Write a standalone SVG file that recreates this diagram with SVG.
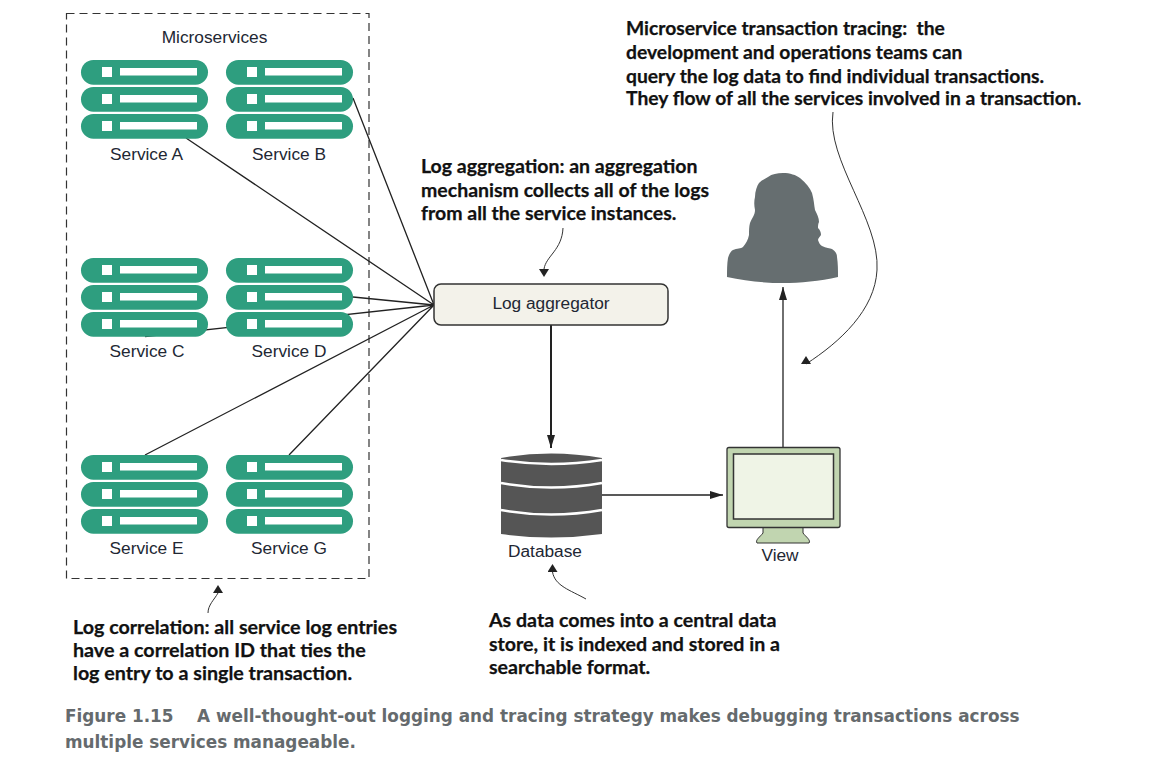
<svg xmlns="http://www.w3.org/2000/svg" xmlns:xlink="http://www.w3.org/1999/xlink" width="1149" height="757" viewBox="0 0 1149 757">
<style>
.lbl{font-family:"Liberation Sans",Arial,sans-serif;font-size:17.3px;fill:#222733}
.note{font-family:Lato,"Open Sans",sans-serif;font-size:19.5px;font-weight:700;fill:#111;stroke:#111;stroke-width:.25}
.cap{font-family:"DejaVu Sans",Verdana,sans-serif;font-size:16.85px;font-weight:700;fill:#656a6d}
.ln{fill:none;stroke:#222;stroke-width:1.3}
.cv{fill:none;stroke:#333;stroke-width:1}
</style>
<defs>
<marker id="a" viewBox="0 0 13 8" refX="13" refY="4" markerWidth="13" markerHeight="8" markerUnits="userSpaceOnUse" orient="auto"><path d="M0 0L13 4L0 8z" fill="#222"/></marker>
<marker id="up" viewBox="0 0 10 8" refX="5" refY="8" markerWidth="10" markerHeight="8" markerUnits="userSpaceOnUse" orient="0"><path d="M5 0L10 8H0z" fill="#222"/></marker>
<marker id="dn" viewBox="0 0 10 8" refX="5" refY="0" markerWidth="10" markerHeight="8" markerUnits="userSpaceOnUse" orient="0"><path d="M5 8L10 0H0z" fill="#222"/></marker>
<g id="srv"><rect x="0" y="0" width="127" height="24.700" rx="12.350" fill="#2e9e7f"/><rect x="21" y="7" width="10" height="10" fill="#fff"/><rect x="39" y="8" width="77" height="7.500" fill="#fff"/></g>
<g id="stack"><use xlink:href="#srv"/><use xlink:href="#srv" y="27"/><use xlink:href="#srv" y="54"/></g>
</defs>
<rect width="1149" height="757" fill="#fff"/>
<g id="microservices"><rect x="66.500" y="13.500" width="302.500" height="565" fill="none" stroke="#333" stroke-width="1.2" stroke-dasharray="8 5"/><text class="lbl" x="214.500" y="43" text-anchor="middle">Microservices</text></g>
<g id="connectors">
<path class="ln" d="M186 138L434 305M353 98L434 305M353 297L434 305M145 336.500L434 305M145 455L434 305M289 455L434 305"/>
<path d="M551 325V448" fill="none" stroke="#222" stroke-width="2" marker-end="url(#a)"/>
<path class="ln" d="M602 495H723" marker-end="url(#a)"/>
<path class="ln" d="M783 447V287" marker-end="url(#a)"/>
<path class="cv" d="M563 228C562 250 546 256 544 269" marker-end="url(#dn)"/>
<path class="cv" d="M586 599C570 590 555 586 552.500 572" marker-end="url(#up)"/>
<path class="cv" d="M208 613C208 605 214 600 218 593" marker-end="url(#up)"/>
<path class="cv" d="M833 112C826 160 880 220 877 270C875 310 840 342 806 364" marker-end="url(#up)"/>
</g>
<g id="service-a"><use xlink:href="#stack" x="81" y="60"/><text class="lbl" x="146.500" y="160" text-anchor="middle">Service A</text></g>
<g id="service-b"><use xlink:href="#stack" x="226" y="60"/><text class="lbl" x="289" y="160" text-anchor="middle">Service B</text></g>
<g id="service-c"><use xlink:href="#stack" x="81" y="258"/><text class="lbl" x="147" y="357" text-anchor="middle">Service C</text></g>
<g id="service-d"><use xlink:href="#stack" x="226" y="258"/><text class="lbl" x="289" y="357" text-anchor="middle">Service D</text></g>
<g id="service-e"><use xlink:href="#stack" x="81" y="455"/><text class="lbl" x="146.500" y="554" text-anchor="middle">Service E</text></g>
<g id="service-g"><use xlink:href="#stack" x="226" y="455"/><text class="lbl" x="289" y="554" text-anchor="middle">Service G</text></g>
<g id="log-aggregator"><rect x="434" y="284" width="234" height="41" rx="7" fill="#f3f2ea" stroke="#333" stroke-width="1.5"/><text class="lbl" x="551" y="309" text-anchor="middle">Log aggregator</text></g>
<g id="database">
<path d="M501 458Q551 449 602 458V534Q551 541 501 534Z" fill="#555"/>
<path d="M501 460Q551 468 602 460M501 483Q551 492 602 483M501 510Q551 519 602 510" fill="none" stroke="#fff" stroke-width="2.500"/>
<text class="lbl" x="545" y="557" text-anchor="middle">Database</text></g>
<g id="view">
<path d="M763 527H803V533C806 537 811 540 809 543H757C755 540 760 537 763 533Z" fill="#c1d5b0" stroke="#333" stroke-width="1"/>
<rect x="727" y="447.500" width="113" height="80" rx="2" fill="#c1d5b0" stroke="#333" stroke-width="1.300"/>
<rect x="733.500" y="454" width="100" height="65" fill="#eff4e6" stroke="#333" stroke-width="1.500"/>
<text class="lbl" x="780" y="561" text-anchor="middle">View</text></g>
<g id="user"><path d="M783 173C790 173 796 175 800 178C806 183 810 188 812 193C814 200 814 205 815 210C817 214 819 218 819 222C818 224 818 226 818 228C820 230 821 232 821 235C820 237 818 238 818 240C819 243 820 245 822 246C826 248 830 248 832 249C836 252 837 254 837 257C838 264 838 270 838 277C820 281 800 283 783 283C765 283 745 281 727 277C727 270 727 264 728 258C729 254 731 251 733 250C737 248 741 249 743 247C746 243 748 240 749 235C749 230 749 227 750 223C752 218 755 215 755 210C754 205 754 201 755 197C755 191 757 186 759 183C762 180 765 179 768 177C772 174 777 173 783 173Z" fill="#666e70"/></g>
<g id="notes">
<text class="note" style="font-size:19.3px" xml:space="preserve"><tspan x="626" y="35">Microservice transaction tracing:  the</tspan><tspan x="626" y="59">development and operations teams can</tspan><tspan x="626" y="83">query the log data to find individual transactions.</tspan><tspan x="626" y="105">They flow of all the services involved in a transaction.</tspan></text>
<text class="note"><tspan x="421" y="173">Log aggregation: an aggregation</tspan><tspan x="421" y="197">mechanism collects all of the logs</tspan><tspan x="421" y="220">from all the service instances.</tspan></text>
<text class="note" style="font-size:19.7px"><tspan x="73" y="634">Log correlation: all service log entries</tspan><tspan x="73" y="657">have a correlation ID that ties the</tspan><tspan x="73" y="680">log entry to a single transaction.</tspan></text>
<text class="note" style="font-size:19.6px"><tspan x="489" y="627">As data comes into a central data</tspan><tspan x="489" y="651">store, it is indexed and stored in a</tspan><tspan x="489" y="674">searchable format.</tspan></text>
</g>
<g id="caption"><text class="cap" x="65" y="722">Figure 1.15</text><text class="cap" x="197" y="722">A well-thought-out logging and tracing strategy makes debugging transactions across</text><text class="cap" x="65" y="748">multiple services manageable.</text></g>
</svg>
